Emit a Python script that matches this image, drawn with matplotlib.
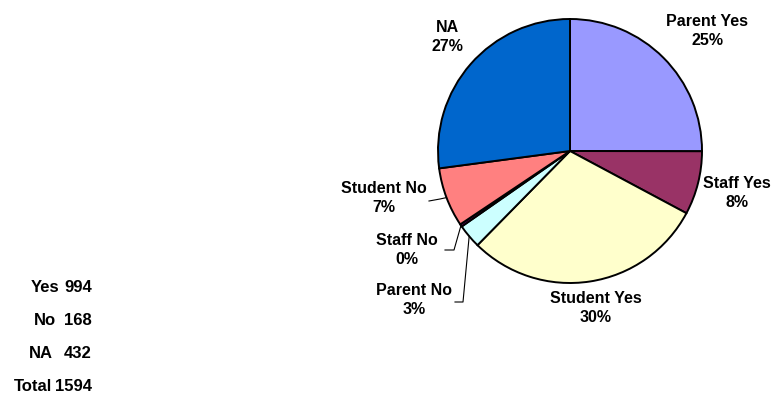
import matplotlib.pyplot as plt
import numpy as np

# slice data (clockwise from 12 o'clock)
categories = ["Parent Yes", "Staff Yes", "Student Yes", "Parent No", "Staff No", "Student No", "NA"]
counts = [399, 124, 471, 47, 5, 116, 432]
colors = ["#9999FF", "#993366", "#FFFFCC", "#CCFFFF", "#660066", "#FF8080", "#0066CC"]

# summary table on the left
summary_labels = ["Yes", "No", "NA", "Total"]
summary_values = [994, 168, 432, 1594]

W, H = 773, 398
plt.rcParams["font.family"] = ["Liberation Sans", "DejaVu Sans"]

fig = plt.figure(figsize=(W / 100, H / 100), dpi=100)
ax = fig.add_axes([0, 0, 1, 1])


def px(x, y):
    # pixel coords (origin top-left) -> data coords
    return x, H - y


cx, cy = px(570, 151)
radius = 132
wedges, _ = ax.pie(counts, colors=colors, startangle=90, counterclock=False,
                   center=(cx, cy), radius=radius,
                   wedgeprops=dict(edgecolor="black", linewidth=1.4))

total = sum(counts)
pcts = [f"{round(100 * c / total)}%" for c in counts]

# label centres in pixels
label_pos = {
    "Parent Yes": (707, 31),
    "Staff Yes": (737, 193),
    "Student Yes": (596, 308),
    "Parent No": (414, 300),
    "Staff No": (407, 250),
    "Student No": (384, 198),
    "NA": (447, 37),
}
for name, pct in zip(categories, pcts):
    x, y = px(*label_pos[name])
    ax.text(x, y, f"{name}\n{pct}", ha="center", va="center", fontsize=11.5,
            fontweight="bold", linespacing=1.3)

# leader lines: label end -> elbow -> slice edge
leaders = {
    "Student No": [(429, 201), (440, 199)],
    "Staff No": [(445, 250), (454, 250)],
    "Parent No": [(455, 302), (463, 302)],
}
for name, pts in leaders.items():
    w = wedges[categories.index(name)]
    mid = np.deg2rad((w.theta1 + w.theta2) / 2)
    ex, ey = cx + radius * np.cos(mid), cy + radius * np.sin(mid)
    xs = [px(*p)[0] for p in pts] + [ex]
    ys = [px(*p)[1] for p in pts] + [ey]
    ax.plot(xs, ys, color="black", linewidth=0.8)

# summary text
label_right = [59, 56, 53, 52]
for i, (lab, val) in enumerate(zip(summary_labels, summary_values)):
    y = H - (287 + i * 33.3)
    ax.text(label_right[i], y, lab, ha="right", va="center", fontsize=12, fontweight="bold")
    ax.text(92, y, str(val), ha="right", va="center", fontsize=12, fontweight="bold")

ax.set_xlim(0, W)
ax.set_ylim(0, H)
ax.set_aspect("equal")
ax.axis("off")

fig.savefig("out.png", dpi=100)
